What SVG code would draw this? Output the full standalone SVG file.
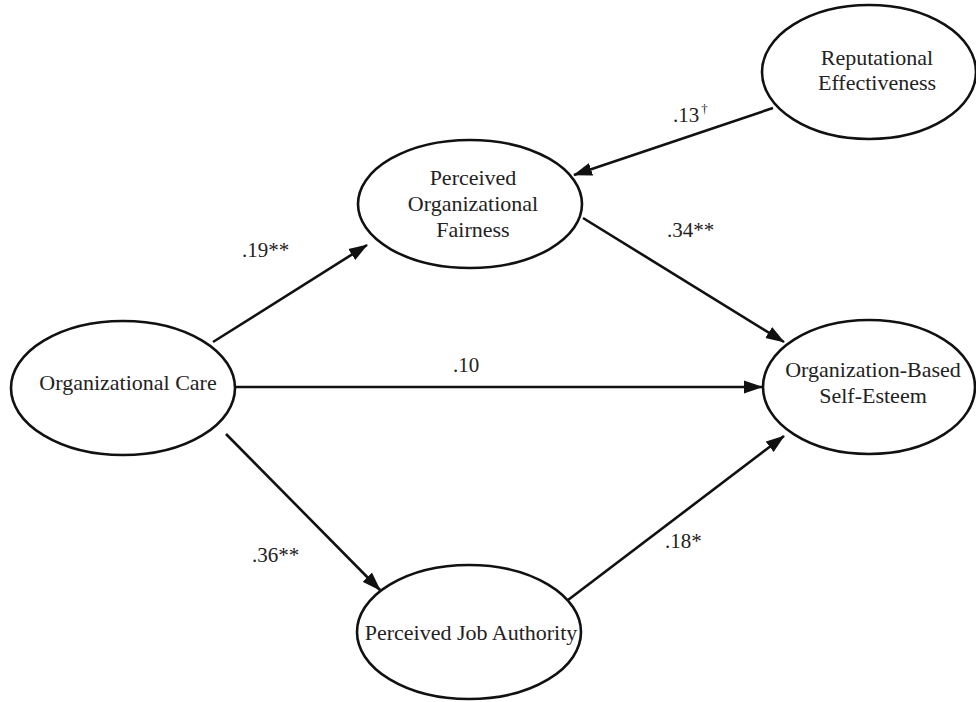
<svg xmlns="http://www.w3.org/2000/svg" width="976" height="702" viewBox="0 0 976 702">
<style>
.node ellipse{fill:#fff;stroke:#111;stroke-width:2.6}
.node text{font-size:22px;fill:#222;text-anchor:middle}
.edges line{stroke:#111;stroke-width:2.6;marker-end:url(#arr)}
.lbl{font-size:21px;fill:#222}
</style>
<defs>
<marker id="arr" markerUnits="userSpaceOnUse" markerWidth="20" markerHeight="14" refX="18" refY="7" orient="auto" viewBox="0 0 20 14">
<path d="M0,0.5 L19,7 L0,13.5 z" fill="#111"/>
</marker>
</defs>
<rect width="976" height="702" fill="#fff"/>
<g font-family="Liberation Serif, Times New Roman, serif">
<g class="edges">
<line x1="213" y1="342" x2="367" y2="245"/>
<line x1="236" y1="387" x2="762" y2="387"/>
<line x1="226" y1="434" x2="380" y2="590"/>
<line x1="583" y1="218" x2="784" y2="342"/>
<line x1="568" y1="600" x2="784" y2="436"/>
<line x1="773" y1="108" x2="574" y2="175"/>
<text class="lbl" x="242" y="257">.19**</text>
<text class="lbl" x="453" y="372">.10</text>
<text class="lbl" x="252" y="562">.36**</text>
<text class="lbl" x="667" y="237">.34**</text>
<text class="lbl" x="665" y="548">.18*</text>
<text class="lbl" x="673" y="122">.13<tspan font-size="13" dy="-9" dx="2">†</tspan></text>
</g>
<g id="reputational-effectiveness" class="node">
<ellipse cx="869" cy="72" rx="107" ry="67"/>
<text x="877" y="65">Reputational</text>
<text x="877" y="90">Effectiveness</text>
</g>
<g id="perceived-organizational-fairness" class="node">
<ellipse cx="470" cy="204" rx="112" ry="64"/>
<text x="473" y="185">Perceived</text>
<text x="473" y="211">Organizational</text>
<text x="473" y="237">Fairness</text>
</g>
<g id="organizational-care" class="node">
<ellipse cx="123" cy="388" rx="112" ry="67"/>
<text x="128" y="390">Organizational Care</text>
</g>
<g id="organization-based-self-esteem" class="node">
<ellipse cx="869" cy="387" rx="106" ry="67"/>
<text x="873" y="377">Organization-Based</text>
<text x="873" y="403">Self-Esteem</text>
</g>
<g id="perceived-job-authority" class="node">
<ellipse cx="469" cy="632" rx="112" ry="67"/>
<text x="471" y="640">Perceived Job Authority</text>
</g>
</g>
</svg>
